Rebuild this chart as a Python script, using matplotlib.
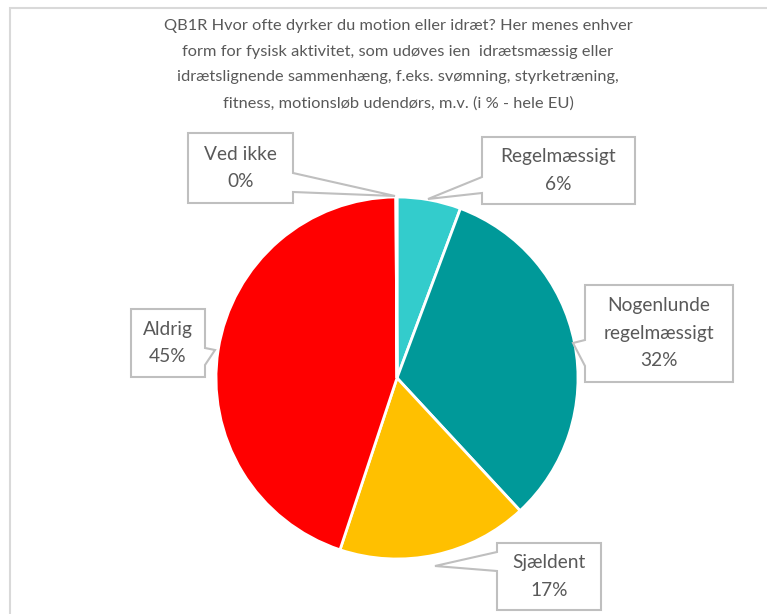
import matplotlib

matplotlib.use("Agg")
import matplotlib.pyplot as plt
from matplotlib.patches import Polygon, Rectangle

# data
categories = ["Regelmæssigt", "Nogenlunde\nregelmæssigt", "Sjældent", "Aldrig", "Ved ikke"]
values = [5.7, 32.4, 17.0, 44.8, 0.1]
colors = ["#33CCCC", "#009999", "#FFC000", "#FF0000", "#A5A5A5"]
title = ("QB1R Hvor ofte dyrker du motion eller idræt? Her menes enhver\n"
         "form for fysisk aktivitet, som udøves ien  idrætsmæssig eller\n"
         "idrætslignende sammenhæng, f.eks. svømning, styrketræning,\n"
         "fitness, motionsløb udendørs, m.v. (i % - hele EU)")

W, H = 767, 614
plt.rcParams["font.family"] = ["Lato", "DejaVu Sans"]
TXT = "#595959"
EDGE = "#BFBFBF"

fig = plt.figure(figsize=(W / 100, H / 100), dpi=100)
ax = fig.add_axes([0, 0, 1, 1])


def Y(y):
    return H - y


# chart frame (top and left visible)
ax.add_patch(Rectangle((10, Y(700)), 900, 692, fill=False, ec="#D9D9D9", lw=1.5))

ax.text(398, Y(65), title, ha="center", va="center", fontsize=11.8, color=TXT,
        linespacing=2.05)

ax.pie(values, colors=colors, startangle=90, counterclock=False,
       center=(397, Y(378)), radius=181, frame=True,
       wedgeprops=dict(edgecolor="white", linewidth=2))
ax.set_xlim(0, W)
ax.set_ylim(0, H)
ax.set_aspect("equal")
ax.axis("off")

# callout boxes: (left, top, right, bottom), side, notch start, notch end, tip
callouts = [
    ((482, 137, 635, 204), "left", 177, 193, (428, 199)),
    ((585, 285, 733, 382), "left", 340, 366, (573, 343)),
    ((497, 543, 601, 610), "left", 552, 571, (435, 566)),
    ((131, 309, 205, 377), "right", 348, 365, (215, 350)),
    ((188, 133, 293, 203), "right", 173, 192, (395, 196)),
]

for cat, val, (box, side, n0, n1, tip) in zip(categories, values, callouts):
    l, t, r, b = box
    if side == "left":
        pts = [(l, t), (r, t), (r, b), (l, b), (l, n1), tip, (l, n0)]
    else:
        pts = [(l, t), (r, t), (r, n0), tip, (r, n1), (r, b), (l, b)]
    ax.add_patch(Polygon([(x, Y(y)) for x, y in pts], closed=True, fc="white",
                         ec=EDGE, lw=1.5, zorder=5))
    ax.text((l + r) / 2, Y((t + b) / 2), f"{cat}\n{round(val)}%", ha="center",
            va="center", fontsize=13.8, color=TXT, linespacing=1.75, zorder=6)

fig.savefig("out.png", dpi=100)
plt.close(fig)
